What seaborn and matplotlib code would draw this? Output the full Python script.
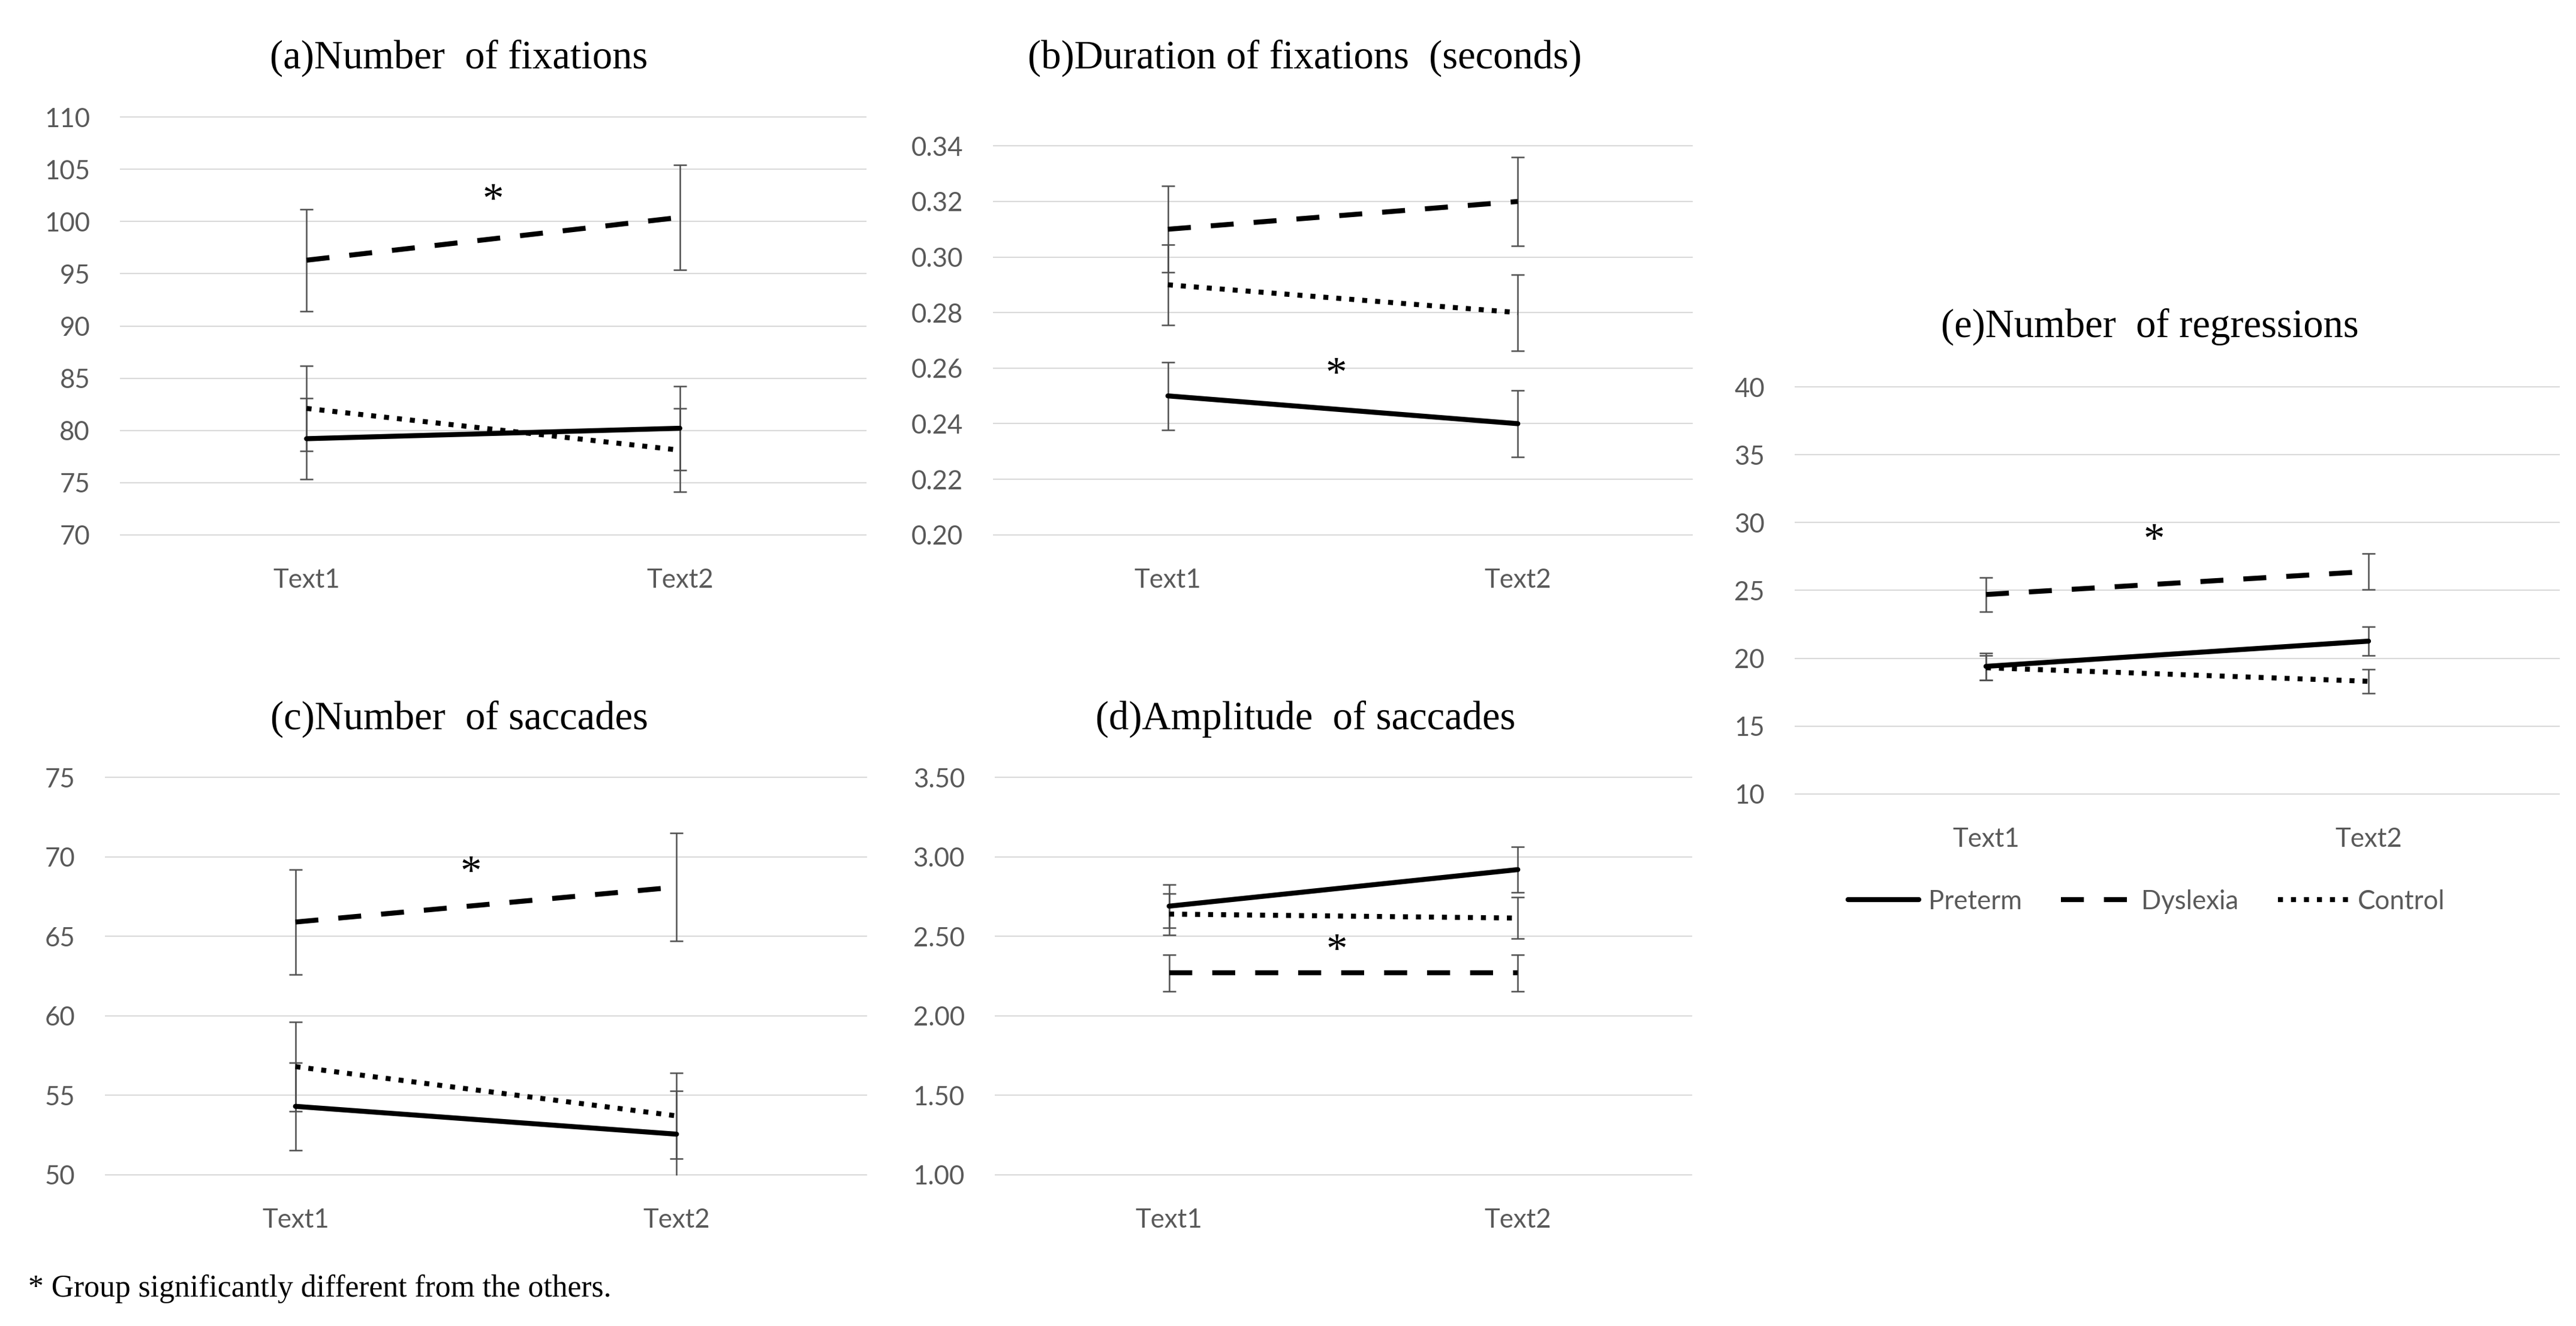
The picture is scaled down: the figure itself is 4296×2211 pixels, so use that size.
import matplotlib
matplotlib.use("Agg")
import matplotlib.pyplot as plt
from matplotlib.ticker import FixedLocator, FuncFormatter
import pandas as pd
import seaborn as sns

# ---------------- data ----------------
texts = ["Text1", "Text2"]
groups = ["Preterm", "Dyslexia", "Control"]

# (a) Number of fixations
a_mean = {"Preterm": [79.2, 80.2], "Dyslexia": [96.3, 100.4], "Control": [82.1, 78.1]}
a_err = {"Preterm": [3.9, 4.0], "Dyslexia": [4.9, 5.0], "Control": [4.1, 4.0]}
# (b) Duration of fixations (seconds)
b_mean = {"Preterm": [0.250, 0.240], "Dyslexia": [0.310, 0.320], "Control": [0.290, 0.280]}
b_err = {"Preterm": [0.0122, 0.0120], "Dyslexia": [0.0155, 0.0160], "Control": [0.0145, 0.0137]}
# (c) Number of saccades
c_mean = {"Preterm": [54.3, 52.55], "Dyslexia": [65.9, 68.1], "Control": [56.8, 53.7]}
c_err = {"Preterm": [2.75, 2.72], "Dyslexia": [3.3, 3.4], "Control": [2.8, 2.7]}
# (d) Amplitude of saccades
d_mean = {"Preterm": [2.69, 2.92], "Dyslexia": [2.27, 2.27], "Control": [2.64, 2.615]}
d_err = {"Preterm": [0.135, 0.145], "Dyslexia": [0.115, 0.115], "Control": [0.13, 0.13]}
# (e) Number of regressions
e_mean = {"Preterm": [19.4, 21.26], "Dyslexia": [24.7, 26.4], "Control": [19.3, 18.3]}
e_err = {"Preterm": [1.0, 1.05], "Dyslexia": [1.26, 1.34], "Control": [0.9, 0.88]}

titles = ["(a)Number  of fixations", "(b)Duration of fixations  (seconds)",
          "(c)Number  of saccades", "(d)Amplitude  of saccades",
          "(e)Number  of regressions"]
y_ticks = [
    [70, 75, 80, 85, 90, 95, 100, 105, 110],
    [0.20, 0.22, 0.24, 0.26, 0.28, 0.30, 0.32, 0.34],
    [50, 55, 60, 65, 70, 75],
    [1.00, 1.50, 2.00, 2.50, 3.00, 3.50],
    [10, 15, 20, 25, 30, 35, 40],
]
y_fmt = ["{:.0f}", "{:.2f}", "{:.0f}", "{:.2f}", "{:.0f}"]
# asterisk (significance marker) positions: (x between texts, y value)
star_pos = [(0.50, 101.9), (0.48, 0.2573), (0.46, 68.9), (0.48, 2.40), (0.44, 28.6)]
footnote = "* Group significantly different from the others."

# ---------------- figure ----------------
W, H = 4296, 2211
DPI = 300
sns.set_theme(style="white")
plt.rcParams["font.family"] = ["Lato", "DejaVu Sans"]
fig = plt.figure(figsize=(W / DPI, H / DPI), dpi=DPI)
fig.patch.set_facecolor("white")

# pixel boxes: left, right, top, bottom (plot area)
boxes = [
    (200, 1445, 194, 893),
    (1656, 2823, 242, 893),
    (175, 1446, 1295, 1960),
    (1659, 2822, 1295, 1960),
    (2993, 4269, 644, 1325),
]
title_xy = [(765, 97), (2176, 97), (766, 1199), (2177, 1199), (3585, 545)]

dashes = {"Preterm": "", "Dyslexia": (4.6, 4.0), "Control": (1, 1.6)}
palette = {g: "black" for g in groups}

panels = [(a_mean, a_err), (b_mean, b_err), (c_mean, c_err), (d_mean, d_err), (e_mean, e_err)]

axes = []
for i, ((means, errs), box) in enumerate(zip(panels, boxes)):
    L, R, T, B = box
    ax = fig.add_axes([L / W, 1 - B / H, (R - L) / W, (B - T) / H])
    axes.append(ax)
    rows = []
    for g in groups:
        for j, t in enumerate(texts):
            rows.append({"pos": j, "text": t, "group": g,
                         "value": means[g][j], "err": errs[g][j]})
    df = pd.DataFrame(rows)

    # error bars
    for g in groups:
        sub = df[df.group == g]
        ax.errorbar(sub["pos"], sub["value"], yerr=sub["err"], fmt="none",
                    ecolor="#505050", elinewidth=0.6, capsize=2.6,
                    capthick=0.6, zorder=3)
    sns.lineplot(data=df, x="pos", y="value", hue="group", style="group",
                 hue_order=groups, style_order=groups, palette=palette,
                 dashes=dashes, linewidth=2.0, ax=ax, legend=(i == 4),
                 zorder=4)

    yt = y_ticks[i]
    span = yt[-1] - yt[0]
    ax.set_ylim(yt[0] - span * 0.002, yt[-1] + span * 0.002)
    ax.set_xlim(-0.5, 1.5)
    ax.yaxis.set_major_locator(FixedLocator(yt))
    fmt = y_fmt[i]
    ax.yaxis.set_major_formatter(FuncFormatter(lambda v, p, f=fmt: f.format(v)))
    ax.set_xticks([0, 1])
    ax.set_xticklabels(texts)
    ax.set_xlabel("")
    ax.set_ylabel("")
    for s in ax.spines.values():
        s.set_visible(False)
    ax.grid(False)
    ax.grid(axis="y", color="#d9d9d9", linewidth=0.5)
    ax.set_axisbelow(True)
    ax.tick_params(axis="y", length=0, pad=12, labelsize=10.5, labelcolor="#595959")
    ax.tick_params(axis="x", length=0, pad=13, labelsize=10.5, labelcolor="#595959")
    ax.set_facecolor("none")

    # title
    tx, ty = title_xy[i]
    fig.text(tx / W, 1 - ty / H, titles[i],
             ha="center", va="center", fontsize=16, family="Liberation Serif",
             color="black")
    sx, sy = star_pos[i]
    ax.text(sx, sy, "*", ha="center", va="center", fontsize=17,
            family="Liberation Serif", color="black", zorder=5)

# legend below panel (e)
axe = axes[4]
sns.move_legend(axe, "center", bbox_to_anchor=(0.46, (1 - 1503 / H - (1 - 1325 / H)) / ((1325 - 644) / H)),
                ncol=3, frameon=False, title=None, fontsize=10.5,
                handlelength=2.7, handletextpad=0.35, columnspacing=1.5)
for txt in axe.get_legend().get_texts():
    txt.set_color("#595959")

fig.text(47 / W, 1 - 2149 / H, footnote, ha="left", va="center",
         fontsize=12.4, family="Liberation Serif", color="black")

fig.savefig("out.png", dpi=DPI, facecolor="white")
